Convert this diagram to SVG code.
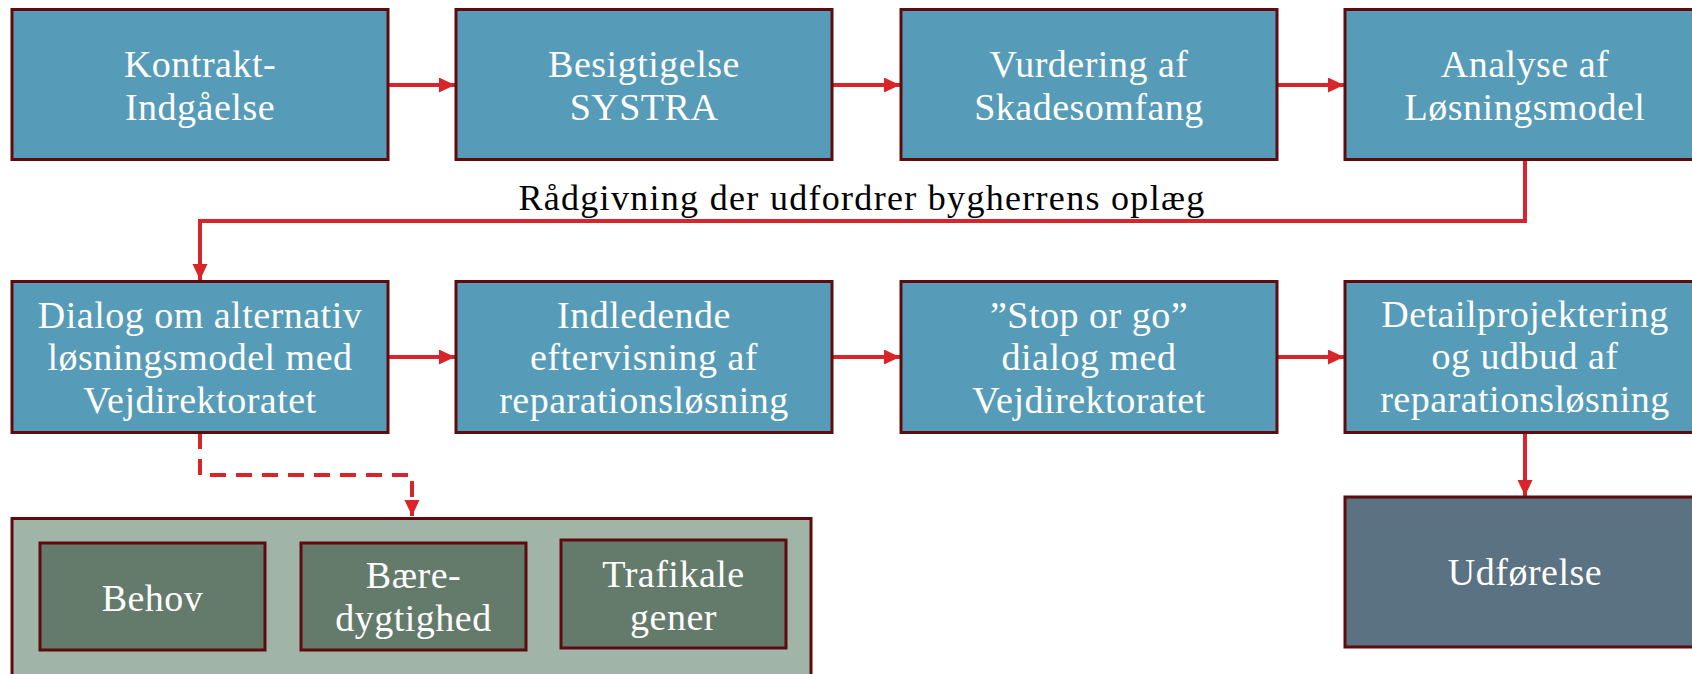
<svg xmlns="http://www.w3.org/2000/svg" width="1692" height="674" viewBox="0 0 1692 674">
<style>
.box{fill:#569CB8;stroke:#5E0B0E;stroke-width:3}
.exec{fill:#5B7282;stroke:#5E0B0E;stroke-width:3}
.outer{fill:#A0B4A8;stroke:#5E0B0E;stroke-width:3}
.inner{fill:#647B6C;stroke:#5E0B0E;stroke-width:3}
.t{font-family:"Liberation Serif","Times New Roman",serif;font-size:38px;fill:#ffffff;text-anchor:middle;letter-spacing:0.5px}
.lbl{font-family:"Liberation Serif","Times New Roman",serif;font-size:36px;fill:#000000;text-anchor:middle;letter-spacing:1.3px}
.c{fill:none;stroke:#D8242B;stroke-width:4}
.d{fill:none;stroke:#D8242B;stroke-width:4;stroke-dasharray:16 10}
</style>
<defs>
<marker id="ah" markerUnits="userSpaceOnUse" markerWidth="17" markerHeight="16" refX="16" refY="7.5" orient="auto">
<path d="M0,0 L16,7.5 L0,15 z" fill="#D8242B"/>
</marker>
</defs>

<g id="connectors">
<path class="c" d="M388,85 H455" marker-end="url(#ah)"/>
<path class="c" d="M833,85 H900" marker-end="url(#ah)"/>
<path class="c" d="M1277,85 H1344" marker-end="url(#ah)"/>
<path class="c" d="M1525,160 V221 H200 V280" marker-end="url(#ah)"/>
<path class="c" d="M388,357 H455" marker-end="url(#ah)"/>
<path class="c" d="M833,357 H900" marker-end="url(#ah)"/>
<path class="c" d="M1277,357 H1344" marker-end="url(#ah)"/>
<path class="c" d="M1525,433 V496" marker-end="url(#ah)"/>
<path class="d" d="M200,433 V475 H412 V516" marker-end="url(#ah)"/>
</g>

<text class="lbl" x="862" y="210">Rådgivning der udfordrer bygherrens oplæg</text>

<g id="n1"><rect class="box" x="12" y="9.5" width="376" height="150"/>
<text class="t" x="200" y="77">Kontrakt-</text><text class="t" x="200" y="120">Indgåelse</text></g>
<g id="n2"><rect class="box" x="456" y="9.5" width="376" height="150"/>
<text class="t" x="644" y="77">Besigtigelse</text><text class="t" x="644" y="120">SYSTRA</text></g>
<g id="n3"><rect class="box" x="901" y="9.5" width="376" height="150"/>
<text class="t" x="1089" y="77">Vurdering af</text><text class="t" x="1089" y="120">Skadesomfang</text></g>
<g id="n4"><rect class="box" x="1345" y="9.5" width="376" height="150"/>
<text class="t" x="1525" y="77">Analyse af</text><text class="t" x="1525" y="120">Løsningsmodel</text></g>

<g id="n5"><rect class="box" x="12" y="281.5" width="376" height="151"/>
<text class="t" x="200" y="328">Dialog om alternativ</text><text class="t" x="200" y="370">løsningsmodel med</text><text class="t" x="200" y="413">Vejdirektoratet</text></g>
<g id="n6"><rect class="box" x="456" y="281.5" width="376" height="151"/>
<text class="t" x="644" y="328">Indledende</text><text class="t" x="644" y="370">eftervisning af</text><text class="t" x="644" y="413">reparationsløsning</text></g>
<g id="n7"><rect class="box" x="901" y="281.5" width="376" height="151"/>
<text class="t" x="1089" y="328">”Stop or go”</text><text class="t" x="1089" y="370">dialog med</text><text class="t" x="1089" y="413">Vejdirektoratet</text></g>
<g id="n8"><rect class="box" x="1345" y="281.5" width="376" height="151"/>
<text class="t" x="1525" y="327">Detailprojektering</text><text class="t" x="1525" y="369">og udbud af</text><text class="t" x="1525" y="412">reparationsløsning</text></g>

<g id="n9"><rect class="exec" x="1345" y="497" width="376" height="150"/>
<text class="t" x="1525" y="585">Udførelse</text></g>

<g id="n10"><rect class="outer" x="12" y="518.5" width="799" height="160"/></g>
<g id="n11"><rect class="inner" x="40" y="543" width="225" height="107"/>
<text class="t" x="152.5" y="611">Behov</text></g>
<g id="n12"><rect class="inner" x="301" y="543" width="225" height="107"/>
<text class="t" x="413.5" y="588">Bære-</text><text class="t" x="413.5" y="631">dygtighed</text></g>
<g id="n13"><rect class="inner" x="561" y="540" width="225" height="108"/>
<text class="t" x="673.5" y="587">Trafikale</text><text class="t" x="673.5" y="630">gener</text></g>
</svg>
